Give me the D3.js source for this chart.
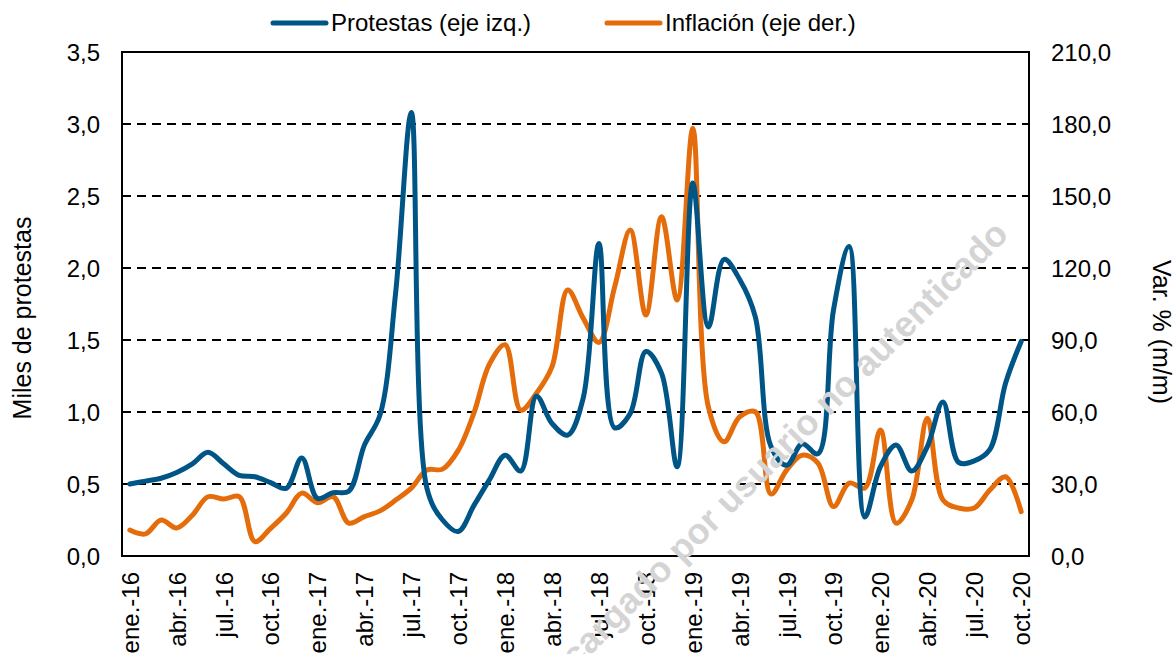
<!DOCTYPE html>
<html>
<head>
<meta charset="utf-8">
<script src="https://cdn.jsdelivr.net/npm/d3@7"></script>
<style>
  body { margin: 0; background: #fff; }
  svg { display: block; font-family: "Liberation Sans", Arial, sans-serif; }
  .tick text { font-size: 24px; fill: #000; }
  .axisLabel { font-size: 25px; fill: #000; }
  .legendText { font-size: 24px; fill: #000; }
</style>
</head>
<body>
<div id="chart"></div>
<script>
// month categories ene.-16 .. oct.-20
const monthAbbr = ['ene.', 'feb.', 'mar.', 'abr.', 'may.', 'jun.', 'jul.', 'ago.', 'sep.', 'oct.', 'nov.', 'dic.'];
const years = ['16', '17', '18', '19', '20'];
const lastMonthIndex = 9; // oct.-20

// miles de protestas (eje izq.)
const protestas = [
  0.50, 0.52, 0.54, 0.58, 0.64, 0.72, 0.64, 0.56, 0.55, 0.51, 0.47, 0.68,
  0.40, 0.44, 0.45, 0.77, 0.98, 1.83, 3.08, 0.47, 0.25, 0.17, 0.35, 0.53,
  0.70, 0.59, 1.11, 0.92, 0.84, 1.10, 2.17, 0.89, 0.99, 1.42, 1.27, 0.62,
  2.59, 1.59, 2.06, 1.92, 1.66, 0.76, 0.63, 0.78, 0.71, 1.71, 2.15, 0.27,
  0.62, 0.77, 0.59, 0.76, 1.07, 0.65, 0.66, 0.74, 1.20, 1.49
];

// inflación, var. % m/m (eje der.)
const inflacion = [
  10.8, 9.2, 15.0, 11.7, 17.0, 24.7, 23.7, 24.7, 6.0, 11.5, 17.8, 26.2,
  22.2, 24.7, 13.7, 16.4, 18.8, 23.3, 28.3, 35.8, 36.2, 44.0, 59.5, 80.0,
  88.0, 60.8, 67.8, 78.9, 110.8, 99.0, 89.0, 112.0, 135.8, 100.4, 141.4, 106.7,
  178.2, 62.0, 47.6, 58.0, 60.1, 25.8, 35.8, 42.0, 38.7, 20.6, 30.4, 28.3,
  52.5, 13.7, 23.3, 57.4, 23.3, 20.0, 20.0, 27.5, 33.0, 18.5
];

const leftTicks = [0, 0.5, 1, 1.5, 2, 2.5, 3, 3.5];
const rightTicks = [0, 30, 60, 90, 120, 150, 180, 210];
const seriesNames = ['Protestas (eje izq.)', 'Inflación (eje der.)'];
const watermarkText = 'Descargado por usuario no autenticado';

let months = [];
years.forEach((y, yi) => monthAbbr.forEach((m, mi) => {
  if (yi < years.length - 1 || mi <= lastMonthIndex) months.push(m + '-' + y);
}));

let margin = { top: 52, left: 122, right: 147, bottom: 98 },
  width = 1176 - margin.left - margin.right,
  height = 654 - margin.top - margin.bottom;

const blue = '#005587',
  orange = '#E46C0A';

let svg = d3.select('#chart')
  .append('svg')
    .attr('width', 1176)
    .attr('height', 654);

let g = svg.append('g')
    .attr('transform', 'translate(' + margin.left + ',' + margin.top + ')');

// scales
let xScale = d3.scalePoint()
    .domain(months)
    .range([0, width])
    .padding(0.5);

let yLeft = d3.scaleLinear()
    .domain([0, 3.5])
    .range([height, 0]);

let yRight = d3.scaleLinear()
    .domain([0, 210])
    .range([height, 0]);

const fmt = d => d3.format('.1f')(d).replace('.', ',');

// dashed gridlines
g.append('g')
  .selectAll('line')
  .data(leftTicks.slice(1, -1))
  .join('line')
    .attr('x1', 0)
    .attr('x2', width)
    .attr('y1', d => yLeft(d))
    .attr('y2', d => yLeft(d))
    .attr('stroke', '#000')
    .attr('stroke-width', 2)
    .attr('stroke-dasharray', '9,6');

// left axis
g.append('g')
    .call(d3.axisLeft(yLeft).tickValues(leftTicks).tickFormat(fmt).tickSize(0).tickPadding(22))
    .call(a => a.select('.domain').remove())
    .selectAll('text').attr('dy', '0.35em');

// right axis
g.append('g')
    .attr('transform', 'translate(' + width + ',0)')
    .call(d3.axisRight(yRight).tickValues(rightTicks).tickFormat(fmt).tickSize(0).tickPadding(22))
    .call(a => a.select('.domain').remove())
    .selectAll('text').attr('dy', '0.35em');

// x axis, every third month
let xAxis = g.append('g')
    .attr('transform', 'translate(0,' + height + ')')
    .call(d3.axisBottom(xScale).tickValues(months.filter((d, i) => i % 3 === 0)).tickSize(0))
    .call(a => a.select('.domain').remove());

xAxis.selectAll('text')
    .style('text-anchor', 'end')
    .attr('x', -16)
    .attr('y', 0)
    .attr('dy', '0.35em')
    .attr('transform', 'rotate(-90)');

// axis titles
svg.append('text')
    .attr('class', 'axisLabel')
    .attr('transform', 'translate(31,318) rotate(-90)')
    .attr('text-anchor', 'middle')
    .text('Miles de protestas');

svg.append('text')
    .attr('class', 'axisLabel')
    .attr('transform', 'translate(1153,332) rotate(90)')
    .attr('text-anchor', 'middle')
    .text('Var. % (m/m)');

// watermark
svg.append('text')
    .attr('transform', 'translate(1010,236) rotate(-45)')
    .attr('text-anchor', 'end')
    .attr('font-size', 36)
    .attr('font-weight', 'bold')
    .attr('fill', '#d4d4d4')
    .text(watermarkText);

// lines (smoothed like the spreadsheet)
let lineLeft = d3.line()
    .x((d, i) => xScale(months[i]))
    .y(d => yLeft(d))
    .curve(d3.curveCatmullRom.alpha(0.5));

let lineRight = d3.line()
    .x((d, i) => xScale(months[i]))
    .y(d => yRight(d))
    .curve(d3.curveCatmullRom.alpha(0.5));

g.append('path')
    .datum(inflacion)
    .attr('fill', 'none')
    .attr('stroke', orange)
    .attr('stroke-width', 5)
    .attr('stroke-linejoin', 'round')
    .attr('stroke-linecap', 'round')
    .attr('d', lineRight);

g.append('path')
    .datum(protestas)
    .attr('fill', 'none')
    .attr('stroke', blue)
    .attr('stroke-width', 5)
    .attr('stroke-linejoin', 'round')
    .attr('stroke-linecap', 'round')
    .attr('d', lineLeft);

// plot frame
g.append('rect')
    .attr('width', width)
    .attr('height', height)
    .attr('fill', 'none')
    .attr('stroke', '#000')
    .attr('stroke-width', 2);

// legend
let legendItems = [
  { name: seriesNames[0], color: blue, x: 273 },
  { name: seriesNames[1], color: orange, x: 607 }
];

let legend = svg.append('g')
  .selectAll('g')
  .data(legendItems)
  .join('g')
    .attr('transform', d => 'translate(' + d.x + ',23)');

legend.append('line')
    .attr('x1', 0)
    .attr('x2', 53)
    .attr('stroke', d => d.color)
    .attr('stroke-width', 5)
    .attr('stroke-linecap', 'round');

legend.append('text')
    .attr('class', 'legendText')
    .attr('x', 58)
    .attr('dy', '0.35em')
    .text(d => d.name);
</script>
</body>
</html>
